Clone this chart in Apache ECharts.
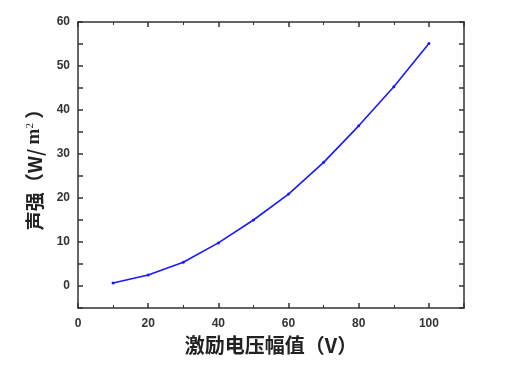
<!DOCTYPE html>
<html>
<head>
<meta charset="utf-8">
<script src="https://cdn.jsdelivr.net/npm/echarts@6/dist/echarts.min.js"></script>
<style>
  html, body { margin: 0; padding: 0; background: #fff; }
  #chart { width: 506px; height: 376px; }
</style>
</head>
<body>
<div id="chart"></div>
<script>
// 激励电压幅值 (V) 与 声强 (W/m2)
var voltages = [10, 20, 30, 40, 50, 60, 70, 80, 90, 100];
var intensity = [0.7, 2.5, 5.4, 9.8, 15.0, 20.9, 28.1, 36.4, 45.3, 55.1];
var xTicks = [0, 20, 40, 60, 80, 100];
var yTicks = [0, 10, 20, 30, 40, 50, 60];

var chart = echarts.init(document.getElementById('chart'));

var axisLine = { show: true, onZero: false, lineStyle: { color: '#333', width: 1.5 } };
var labelFont = { color: '#333', fontWeight: 'bold', fontSize: 12, fontFamily: 'Liberation Sans, Arial, sans-serif' };

var option = {
    animation: false,
    grid: { left: 78, top: 22, right: 42, bottom: 68 },
    xAxis: [
        {
            type: 'value', min: 0, max: 110, interval: 20,
            axisLine: axisLine,
            axisTick: { inside: true, length: 5, lineStyle: { color: '#333', width: 1.5 } },
            minorTick: { show: true, splitNumber: 2, length: 3, lineStyle: { color: '#333', width: 1 } },
            axisLabel: Object.assign({
                margin: 10,
                formatter: function (v) { return xTicks.indexOf(v) >= 0 ? v : ''; }
            }, labelFont),
            splitLine: { show: false },
            name: '激励电压幅值（V）',
            nameLocation: 'middle',
            nameGap: 27,
            nameTextStyle: { fontSize: 20, fontWeight: 'bold', color: '#222', fontFamily: 'Noto Sans CJK SC' }
        },
        {
            type: 'value', position: 'top', min: 0, max: 110, interval: 20,
            axisLine: axisLine,
            axisTick: { inside: true, length: 5, lineStyle: { color: '#333', width: 1.5 } },
            minorTick: { show: true, splitNumber: 2, length: 3, lineStyle: { color: '#333', width: 1 } },
            axisLabel: { show: false },
            splitLine: { show: false }
        }
    ],
    yAxis: [
        {
            type: 'value', min: -5, max: 60, interval: 5,
            axisLine: axisLine,
            axisTick: {
                inside: true, length: 5, lineStyle: { color: '#333', width: 1.5 }
            },
            axisLabel: Object.assign({
                margin: 8,
                formatter: function (v) { return yTicks.indexOf(v) >= 0 ? v : ''; }
            }, labelFont),
            splitLine: { show: false },
            name: '{a|声强（W/ }{m|m}{s|2}{a| ）}',
            nameLocation: 'middle',
            nameGap: 34,
            nameRotate: 90,
            nameTextStyle: {
                rich: {
                    a: { fontSize: 19, fontWeight: 'bold', color: '#222', fontFamily: 'Noto Sans CJK SC' },
                    m: { fontSize: 19, fontWeight: 'bold', color: '#222', fontFamily: 'Liberation Serif' },
                    s: { fontSize: 11, color: '#222', fontFamily: 'Liberation Serif', verticalAlign: 'top', padding: [0, 0, 8, 0] }
                }
            }
        },
        {
            type: 'value', position: 'right', min: -5, max: 60, interval: 5,
            axisLine: axisLine,
            axisTick: { inside: true, length: 5, lineStyle: { color: '#333', width: 1.5 } },
            axisLabel: { show: false },
            splitLine: { show: false }
        }
    ],
    series: [
        {
            type: 'line',
            data: voltages.map(function (v, i) { return [v, intensity[i]]; }),
            symbol: 'circle',
            symbolSize: 3,
            lineStyle: { color: '#1a1aff', width: 1.6 },
            itemStyle: { color: '#1a1aff' }
        }
    ]
};
chart.setOption(option);
</script>
</body>
</html>
